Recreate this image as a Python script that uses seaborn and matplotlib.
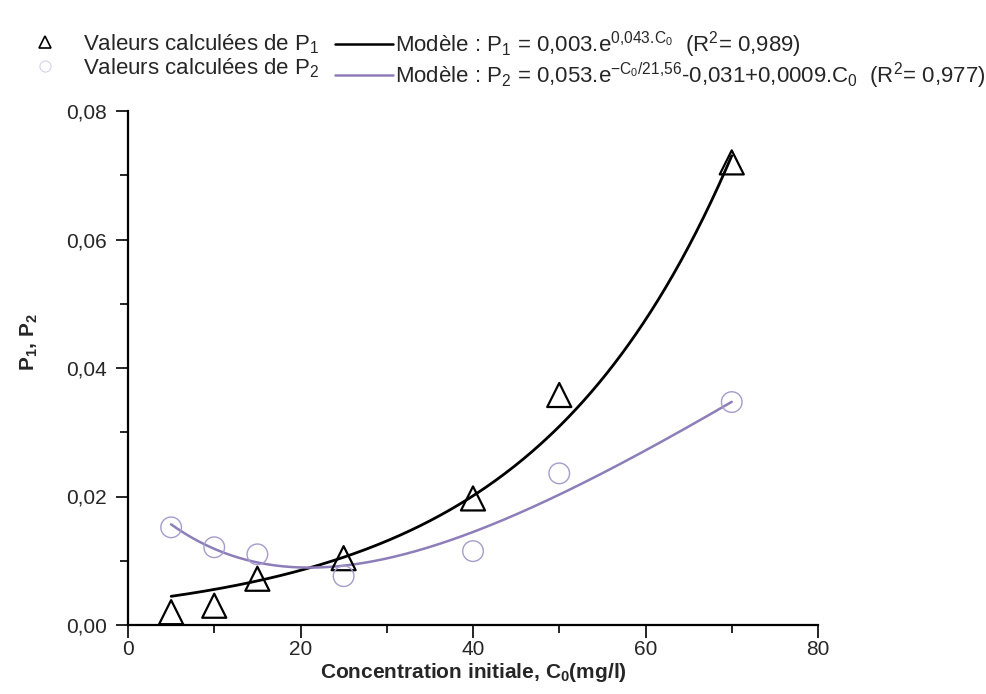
import numpy as np
import pandas as pd
import matplotlib
matplotlib.use("Agg")
import matplotlib.pyplot as plt
import seaborn as sns
from matplotlib.lines import Line2D
from matplotlib.ticker import FixedLocator, MultipleLocator

# Initial concentration (mg/l) and computed P1 / P2 values
C0 = [5, 10, 15, 25, 40, 50, 70]
P1 = [0.0020, 0.0030, 0.0072, 0.0104, 0.0197, 0.0358, 0.0720]
P2 = [0.0152, 0.0121, 0.0110, 0.0076, 0.0115, 0.0236, 0.0347]

x_ticks = [0, 20, 40, 60, 80]
x_tick_labels = ["0", "20", "40", "60", "80"]
y_ticks = [0.00, 0.02, 0.04, 0.06, 0.08]
y_tick_labels = ["0,00", "0,02", "0,04", "0,06", "0,08"]

# Model coefficients for the drawn curves
p1_a, p1_b = 0.0036, 0.043
p2_a, p2_tau, p2_c, p2_k = 0.0497, 21.56, -0.0281, 0.00087

label_pts1 = "Valeurs calculées de P$_1$"
label_pts2 = "Valeurs calculées de P$_2$"
label_mod1 = r"Modèle : P$_1$ = 0,003.e$^{0{,}043.\!C_0}$  (R$^2$= 0,989)"
label_mod2 = (r"Modèle : P$_2$ = 0,053.e$^{-C_0/21{,}56}$-0,031+0,0009.C$_0$"
              r"  (R$^2$= 0,977)")

purple_pts = "#a59ccb"
purple_line = "#8d7db8"

sns.set_style("ticks")
plt.rcParams["font.family"] = ["Liberation Sans", "DejaVu Sans"]
plt.rcParams["mathtext.fontset"] = "custom"
plt.rcParams["mathtext.rm"] = "Liberation Sans"
plt.rcParams["mathtext.it"] = "Liberation Sans"
plt.rcParams["mathtext.bf"] = "Liberation Sans:bold"

W, H = 986, 694
fig = plt.figure(figsize=(W / 100, H / 100), dpi=100)
ax_left, ax_right, ax_top, ax_bottom = 128, 818, 111, 625
ax = fig.add_axes([ax_left / W, (H - ax_bottom) / H,
                   (ax_right - ax_left) / W, (ax_bottom - ax_top) / H])

points = pd.DataFrame({"C0": C0, "P1": P1, "P2": P2})
c_grid = np.linspace(min(C0), max(C0), 300)
curves = pd.DataFrame({
    "C0": c_grid,
    "M1": p1_a * np.exp(p1_b * c_grid),
    "M2": p2_a * np.exp(-c_grid / p2_tau) + p2_c + p2_k * c_grid,
})

sns.lineplot(data=curves, x="C0", y="M1", ax=ax, color="black", lw=2.0)
sns.lineplot(data=curves, x="C0", y="M2", ax=ax, color=purple_line, lw=1.8)
sns.scatterplot(data=points, x="C0", y="P1", ax=ax, marker="^", s=300,
                facecolor="none", edgecolor="black", linewidth=1.6,
                clip_on=False, zorder=5)
sns.scatterplot(data=points, x="C0", y="P2", ax=ax, marker="o", s=220,
                facecolor="none", edgecolor=purple_pts, linewidth=1.0,
                clip_on=False, zorder=5)

ax.set_xlim(0, 80)
ax.set_ylim(0, 0.08)
ax.xaxis.set_major_locator(FixedLocator(x_ticks))
ax.set_xticklabels(x_tick_labels)
ax.xaxis.set_minor_locator(MultipleLocator(10))
ax.yaxis.set_major_locator(FixedLocator(y_ticks))
ax.set_yticklabels(y_tick_labels)
ax.yaxis.set_minor_locator(MultipleLocator(0.01))
ax.tick_params(which="major", direction="out", length=9, width=1.2,
               labelsize=15, color="black")
ax.tick_params(axis="x", which="major", pad=2)
ax.tick_params(axis="y", which="major", pad=6)
ax.tick_params(which="minor", direction="out", length=6, width=1.2, color="black")
sns.despine(ax=ax)
for side in ("left", "bottom"):
    ax.spines[side].set_linewidth(1.6)
    ax.spines[side].set_color("black")

ax.set_xlabel("Concentration initiale, C$_\\mathbf{0}$(mg/l)", fontsize=15,
              fontweight="bold", labelpad=1)
ax.set_ylabel("P$_\\mathbf{1}$, P$_\\mathbf{2}$", fontsize=15,
              fontweight="bold")
ax.yaxis.set_label_coords((40 - ax_left) / (ax_right - ax_left),
                          (ax_bottom - 342) / (ax_bottom - ax_top))

h_tri = Line2D([], [], ls="none", marker="^", ms=9, mfc="none",
               mec="black", mew=1.2)
h_circ = Line2D([], [], ls="none", marker="o", ms=8, mfc="none",
                mec="#d6d1ea", mew=0.8)
h_l1 = Line2D([], [], color="black", lw=1.8)
h_l2 = Line2D([], [], color=purple_line, lw=1.8)

fig.legend([h_tri, h_circ], [label_pts1, label_pts2], loc="upper left",
           bbox_to_anchor=(36 / W, 1 - 32 / H), frameon=False,
           fontsize=16, handlelength=0.8, handletextpad=1.3,
           labelspacing=0.02, borderpad=0, borderaxespad=0)
fig.legend([h_l1, h_l2], [label_mod1, label_mod2], loc="upper left",
           bbox_to_anchor=(335 / W, 1 - 29 / H), frameon=False,
           fontsize=16, handlelength=2.6, handletextpad=0.1,
           labelspacing=0.02, borderpad=0, borderaxespad=0)

fig.savefig("out.png", dpi=100)
